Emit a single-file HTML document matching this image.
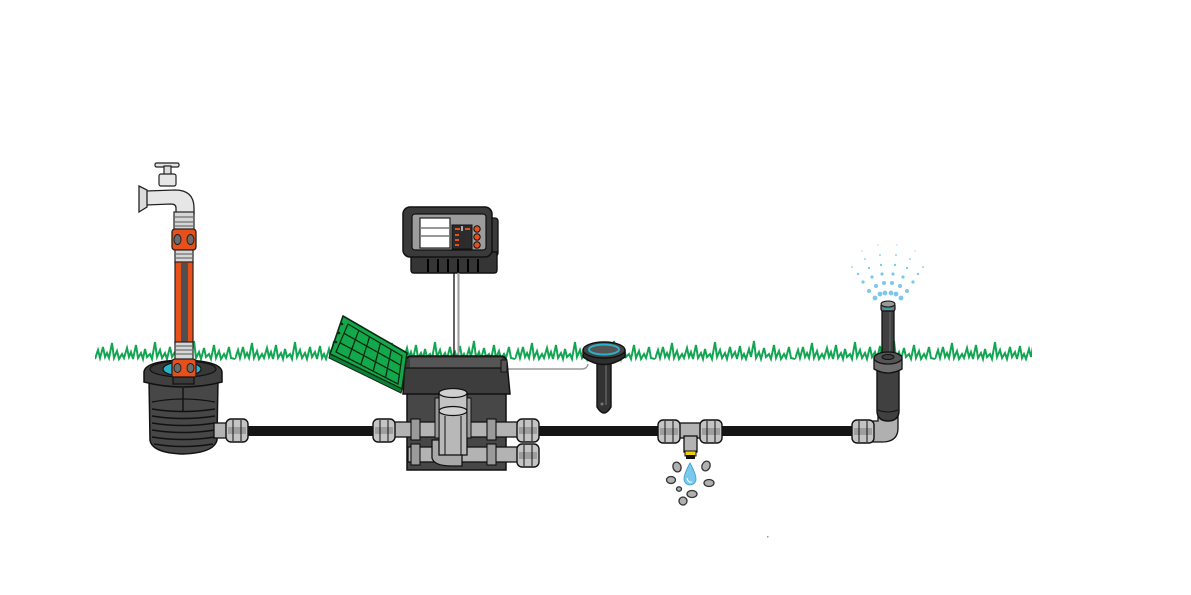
<!DOCTYPE html>
<html><head><meta charset="utf-8"><style>html,body{margin:0;padding:0;background:#fff}svg{display:block}</style></head>
<body>
<svg width="1191" height="595" viewBox="0 0 1191 595" xmlns="http://www.w3.org/2000/svg">
<defs>
<pattern id="g" x="95" y="337" width="140" height="28" patternUnits="userSpaceOnUse">
<path d="M0,22 L3,13 L5,21 L8,10 L10,20 L12,16 L14,21 L17,6 L19,21 L22,14 L24,22 L27,17 L29,21 L32,11 L34,20 L36,15 L38,22 L41,8 L43,21 L46,16 L48,22 L50,12 L52,20 L55,17 L57,22 L60,5 L62,20 L65,13 L67,21 L70,16 L72,22 L75,10 L77,20 L80,15 L82,22 L85,9 L87,21 L89,17 L91,22 L94,12 L96,20 L99,4 L101,21 L104,15 L106,22 L109,11 L111,20 L114,17 L116,22 L119,8 L121,21 L124,14 L126,22 L129,17 L131,21 L134,10 L136,21 L140,22" fill="none" stroke="#12a652" stroke-width="2" stroke-linejoin="miter"/>
</pattern>
<g id="nut">
<rect x="0" y="0" width="22" height="23" rx="5" fill="#c4c4c4" stroke="#111" stroke-width="1.4"/>
<rect x="2" y="8" width="18" height="7" fill="#9e9e9e"/>
<line x1="7" y1="1" x2="7" y2="22" stroke="#111" stroke-width="1"/>
<line x1="15" y1="1" x2="15" y2="22" stroke="#111" stroke-width="1"/>
</g>
</defs>
<rect width="1191" height="595" fill="#fff"/>
<rect x="95" y="337" width="937" height="28" fill="url(#g)"/>

<!-- pipes -->
<rect x="240" y="426" width="145" height="10" fill="#151515"/>
<rect x="530" y="426" width="140" height="10" fill="#151515"/>
<rect x="712" y="426" width="150" height="10" fill="#151515"/>

<!-- TAP -->
<rect x="155" y="163" width="24" height="4" rx="1.5" fill="#e4e4e4" stroke="#222" stroke-width="1.2"/>
<rect x="164" y="166" width="7" height="9" fill="#ddd" stroke="#222" stroke-width="1.2"/>
<rect x="159" y="174" width="17" height="12" rx="2" fill="#e6e6e6" stroke="#222" stroke-width="1.2"/>
<path d="M146,191 L175,190 Q194,190 194,208 L194,214 L176,214 L176,208 Q176,204 171,204 L146,205 Z" fill="#e6e6e6" stroke="#222" stroke-width="1.3"/>
<path d="M139,186 L147,190 L147,207 L139,212 Z" fill="#dcdcdc" stroke="#222" stroke-width="1.3"/>
<rect x="174" y="212" width="20" height="18" fill="#d6d6d6" stroke="#222" stroke-width="1.2"/>
<line x1="175" y1="217" x2="193" y2="217" stroke="#555"/><line x1="175" y1="222" x2="193" y2="222" stroke="#555"/><line x1="175" y1="226" x2="193" y2="226" stroke="#555"/>
<rect x="172" y="229" width="24" height="21" rx="3" fill="#e8501b" stroke="#222" stroke-width="1.3"/>
<ellipse cx="177.5" cy="239.5" rx="3.5" ry="5" fill="#6d6d6d" stroke="#222"/>
<ellipse cx="190.5" cy="239.5" rx="3.5" ry="5" fill="#6d6d6d" stroke="#222"/>
<rect x="175" y="250" width="18" height="13" fill="#d6d6d6" stroke="#222" stroke-width="1.2"/>
<line x1="176" y1="254" x2="192" y2="254" stroke="#555"/><line x1="176" y1="258" x2="192" y2="258" stroke="#555"/>
<rect x="175" y="262" width="18" height="82" fill="#e8501b" stroke="#222" stroke-width="1.2"/>
<rect x="181" y="263" width="7" height="80" fill="#4f4f4f"/>

<!-- POT -->
<path d="M149,378 L150,440 Q152,453 183,454 Q214,453 217,440 L218,378 Z" fill="#474747" stroke="#111" stroke-width="1.5"/>
<path d="M152,402 Q183,396 215,402" fill="none" stroke="#111" stroke-width="1.2"/>
<path d="M152,409 Q183,414 215,409" fill="none" stroke="#111" stroke-width="1.4"/>
<path d="M152,416 Q183,421 215,416" fill="none" stroke="#111" stroke-width="1.4"/>
<path d="M152,423 Q183,428 215,423" fill="none" stroke="#111" stroke-width="1.4"/>
<path d="M152,430 Q183,435 215,430" fill="none" stroke="#111" stroke-width="1.4"/>
<path d="M152,437 Q183,442 215,437" fill="none" stroke="#111" stroke-width="1.4"/>
<path d="M154,444 Q183,449 213,444" fill="none" stroke="#111" stroke-width="1.4"/>
<line x1="183" y1="388" x2="183" y2="412" stroke="#111" stroke-width="1.4"/>
<path d="M144,372 Q145,361 183,360 Q221,361 222,372 L222,382 Q183,392 144,382 Z" fill="#404040" stroke="#111" stroke-width="1.5"/>
<ellipse cx="183" cy="369" rx="33" ry="8" fill="#383838" stroke="#111" stroke-width="1.2"/>
<ellipse cx="182" cy="369" rx="19" ry="7" fill="#2bb4c8" stroke="#111" stroke-width="1.2"/>
<rect x="175" y="342" width="18" height="18" fill="#d6d6d6" stroke="#222" stroke-width="1.2"/>
<line x1="176" y1="346" x2="192" y2="346" stroke="#555"/><line x1="176" y1="350" x2="192" y2="350" stroke="#555"/><line x1="176" y1="354" x2="192" y2="354" stroke="#555"/>
<rect x="172" y="359" width="24" height="19" rx="3" fill="#e8501b" stroke="#222" stroke-width="1.3"/>
<ellipse cx="177.5" cy="368" rx="3.5" ry="4.5" fill="#6d6d6d" stroke="#222"/>
<ellipse cx="190.5" cy="368" rx="3.5" ry="4.5" fill="#6d6d6d" stroke="#222"/>
<rect x="173" y="377" width="21" height="7" fill="#3a3a3a" stroke="#111" stroke-width="1.2"/>
<rect x="214" y="423" width="14" height="15" fill="#b3b3b3" stroke="#111" stroke-width="1.3"/>
<use href="#nut" x="226" y="419"/>

<!-- CONTROLLER -->
<rect x="488" y="218" width="10" height="38" rx="3" fill="#3a3a3a" stroke="#111" stroke-width="1.3"/>
<path d="M411,252 L411,270 Q411,273 414,273 L494,273 Q497,273 497,270 L497,252 Z" fill="#353535" stroke="#111" stroke-width="1.4"/>
<g stroke="#000" stroke-width="2"><line x1="428" y1="259" x2="428" y2="272"/><line x1="438" y1="259" x2="438" y2="272"/><line x1="448" y1="259" x2="448" y2="272"/><line x1="458" y1="259" x2="458" y2="272"/><line x1="468" y1="259" x2="468" y2="272"/><line x1="478" y1="259" x2="478" y2="272"/></g>
<rect x="403" y="207" width="89" height="50" rx="7" fill="#3a3a3a" stroke="#111" stroke-width="1.5"/>
<rect x="412" y="214" width="74" height="36" rx="3" fill="#9c9c9c" stroke="#111" stroke-width="1.2"/>
<rect x="420" y="218" width="30" height="30" fill="#fff" stroke="#222" stroke-width="1.2"/>
<line x1="420" y1="228" x2="450" y2="228" stroke="#777" stroke-width="1.5"/>
<line x1="420" y1="236" x2="450" y2="236" stroke="#777" stroke-width="1.5"/>
<rect x="452" y="225" width="20" height="24" fill="#2c2c2c" stroke="#111"/>
<g fill="#e8501b"><rect x="455" y="228" width="5" height="2"/><rect x="465" y="228" width="5" height="2"/><rect x="455" y="234" width="4" height="2"/><rect x="455" y="239" width="4" height="2"/><rect x="455" y="244" width="4" height="2"/></g>
<rect x="461" y="226" width="2" height="5" fill="#aaa"/>
<g fill="#e8501b" stroke="#111" stroke-width="1"><circle cx="477" cy="229" r="3.2"/><circle cx="477" cy="237" r="3.2"/><circle cx="477" cy="245" r="3.2"/></g>
<line x1="454" y1="273" x2="454" y2="358" stroke="#111" stroke-width="1.3"/>
<line x1="458.5" y1="273" x2="458.5" y2="358" stroke="#9a9a9a" stroke-width="2"/>
<path d="M508,369 L582,369 Q587,369 588,364" fill="none" stroke="#9a9a9a" stroke-width="1.5"/>

<!-- BOX -->
<rect x="407" y="388" width="99" height="82" fill="#474747" stroke="#111" stroke-width="1.5"/>
<path d="M403,394 L405,362 Q406,356 412,356 L500,356 Q506,356 507,362 L510,394 Z" fill="#3d3d3d" stroke="#111" stroke-width="1.5"/>
<rect x="410" y="358" width="92" height="10" fill="#555"/>
<line x1="405" y1="368" x2="507" y2="368" stroke="#111" stroke-width="1.2"/>
<rect x="501" y="360" width="6" height="12" fill="#555" stroke="#111"/>
<!-- green lid -->
<path d="M343,316 L407,353 L402,389 L330,354 Z" fill="#13a84b" stroke="#0a2a12" stroke-width="1.6" stroke-linejoin="round"/>
<path d="M330,354 L402,389 L401,393 L329,358 Z" fill="#0d7f37" stroke="#0a2a12" stroke-width="1"/>
<path d="M348,324 L402,356 L398,384 L336,352 Z" fill="none" stroke="#0a2a12" stroke-width="1.3"/>
<g stroke="#0a2a12" stroke-width="1.3"><line x1="358.8" y1="330.4" x2="348.4" y2="358.4"/><line x1="369.6" y1="336.8" x2="360.8" y2="364.8"/><line x1="380.4" y1="343.2" x2="373.2" y2="371.2"/><line x1="391.2" y1="349.6" x2="385.6" y2="377.6"/><line x1="344" y1="333.3" x2="400.7" y2="365.3"/><line x1="340" y1="342.7" x2="399.3" y2="374.7"/></g>
<g fill="#0a2a12"><circle cx="342" cy="324" r="1.3"/><circle cx="339" cy="333" r="1.3"/><circle cx="336" cy="342" r="1.3"/></g>
<!-- pipes in box -->
<rect x="390" y="422" width="138" height="15" fill="#b3b3b3" stroke="#111" stroke-width="1.3"/>
<rect x="408" y="447" width="120" height="15" fill="#b3b3b3" stroke="#111" stroke-width="1.3"/>
<g fill="#9a9a9a" stroke="#111" stroke-width="1.1">
<rect x="411" y="419" width="9" height="21"/><rect x="487" y="419" width="9" height="21"/>
<rect x="411" y="444" width="9" height="21"/><rect x="487" y="444" width="9" height="21"/>
</g>
<path d="M432,440 L432,458 Q434,466 452,466 L462,466 L462,440 Z" fill="#a8a8a8" stroke="#111" stroke-width="1.3"/>
<rect x="439" y="410" width="28" height="45" fill="#b8b8b8" stroke="#111" stroke-width="1.3"/>
<rect x="439" y="393" width="28" height="17" fill="#c4c4c4" stroke="#111" stroke-width="1.3"/>
<ellipse cx="453" cy="393" rx="14" ry="4.5" fill="#d0d0d0" stroke="#111" stroke-width="1.3"/>
<ellipse cx="453" cy="411" rx="14" ry="4.5" fill="#d0d0d0" stroke="#111" stroke-width="1.3"/>
<line x1="445" y1="416" x2="445" y2="455" stroke="#111"/><line x1="461" y1="416" x2="461" y2="455" stroke="#111"/>
<rect x="435" y="398" width="4" height="40" fill="#999" stroke="#111"/>
<rect x="467" y="398" width="4" height="40" fill="#999" stroke="#111"/>
<use href="#nut" x="373" y="419"/>
<use href="#nut" x="517" y="419"/>
<use href="#nut" x="517" y="444"/>

<!-- SENSOR -->
<path d="M597,360 L597,407 Q604,419 611,407 L611,360 Z" fill="#333" stroke="#111" stroke-width="1.4"/>
<line x1="606" y1="365" x2="606" y2="405" stroke="#555" stroke-width="2"/>
<circle cx="602" cy="404" r="1.5" fill="#777"/>
<path d="M583,350 L583,357 Q604,372 625,357 L625,350 Z" fill="#2f2f2f" stroke="#111" stroke-width="1.4"/>
<ellipse cx="604" cy="350" rx="21" ry="8" fill="#444" stroke="#111" stroke-width="1.4"/>
<ellipse cx="604" cy="349.5" rx="15" ry="5" fill="#555" stroke="#2ab3c6" stroke-width="2"/>

<!-- T JOINT -->
<rect x="676" y="423" width="28" height="15" fill="#b3b3b3" stroke="#111" stroke-width="1.3"/>
<rect x="684" y="436" width="13" height="16" fill="#b3b3b3" stroke="#111" stroke-width="1.3"/>
<rect x="685" y="451" width="11" height="5" fill="#f2d000" stroke="#111"/>
<rect x="686" y="455" width="9" height="4" fill="#111"/>
<use href="#nut" x="658" y="420"/>
<use href="#nut" x="700" y="420"/>
<path d="M690,463 Q684,474 684,479 A6,6 0 0 0 696,479 Q696,474 690,463 Z" fill="#7cc8ec" stroke="#3a9ed0" stroke-width="0.8"/>
<path d="M687,478 Q688,483 692,482" fill="none" stroke="#fff" stroke-width="1"/>
<g fill="#b0b0b0" stroke="#333" stroke-width="1.3">
<ellipse cx="677" cy="467" rx="4" ry="5" transform="rotate(-20 677 467)"/>
<ellipse cx="706" cy="466" rx="4" ry="5" transform="rotate(25 706 466)"/>
<ellipse cx="671" cy="480" rx="4.5" ry="3.5"/>
<ellipse cx="709" cy="483" rx="5" ry="3.5"/>
<ellipse cx="692" cy="494" rx="5" ry="3.5"/>
<ellipse cx="679" cy="489" rx="2.5" ry="2.2"/>
<ellipse cx="683" cy="501" rx="4" ry="4"/>
</g>

<!-- SPRINKLER -->
<path d="M878,416 L898,416 L898,428 Q898,442 882,442 L872,442 L872,421 L878,421 Z" fill="#b0b0b0" stroke="#111" stroke-width="1.3"/>
<use href="#nut" x="852" y="420"/>
<path d="M877,370 L877,412 Q878,421 888,421 Q898,421 899,412 L899,370 Z" fill="#404040" stroke="#111" stroke-width="1.4"/>
<path d="M878,410 Q888,414 898,410" fill="none" stroke="#111"/>
<rect x="882" y="307" width="12" height="50" fill="#404040" stroke="#111" stroke-width="1.3"/>
<line x1="890" y1="312" x2="890" y2="352" stroke="#555" stroke-width="2"/>
<path d="M874,358 L874,369 Q888,377 902,369 L902,358 Z" fill="#6e6e6e" stroke="#111" stroke-width="1.3"/>
<ellipse cx="888" cy="358" rx="14" ry="6" fill="#555" stroke="#111" stroke-width="1.3"/>
<ellipse cx="888" cy="357" rx="6" ry="2.5" fill="#404040" stroke="#111"/>
<rect x="881" y="304" width="14" height="7" rx="2" fill="#777" stroke="#111" stroke-width="1.2"/>
<ellipse cx="888" cy="304" rx="7" ry="3" fill="#999" stroke="#111"/>
<line x1="884" y1="309" x2="892" y2="309" stroke="#2ab3c6" stroke-width="1.3"/>
<g fill="#7cc8ec">
<circle cx="875" cy="298" r="2.4"/><circle cx="880" cy="294" r="2.4"/><circle cx="885" cy="293" r="2.4"/><circle cx="891" cy="293" r="2.4"/><circle cx="896" cy="294" r="2.4"/><circle cx="901" cy="298" r="2.4"/>
<circle cx="869" cy="291" r="2"/><circle cx="876" cy="286" r="2"/><circle cx="884" cy="283" r="2"/><circle cx="892" cy="283" r="2"/><circle cx="900" cy="286" r="2"/><circle cx="907" cy="291" r="2"/>
<circle cx="863" cy="282" r="1.6"/><circle cx="872" cy="277" r="1.6"/><circle cx="882" cy="274" r="1.6"/><circle cx="893" cy="274" r="1.6"/><circle cx="903" cy="277" r="1.6"/><circle cx="913" cy="282" r="1.6"/>
<circle cx="858" cy="274" r="1.2"/><circle cx="869" cy="268" r="1.2"/><circle cx="881" cy="265" r="1.2"/><circle cx="895" cy="265" r="1.2"/><circle cx="907" cy="268" r="1.2"/><circle cx="918" cy="274" r="1.2"/>
<circle cx="852" cy="267" r="0.9"/><circle cx="865" cy="259" r="0.9"/><circle cx="880" cy="255" r="0.9"/><circle cx="896" cy="255" r="0.9"/><circle cx="910" cy="259" r="0.9"/><circle cx="923" cy="267" r="0.9"/>
<circle cx="862" cy="251" r="0.6"/><circle cx="878" cy="245" r="0.6"/><circle cx="897" cy="245" r="0.6"/><circle cx="915" cy="251" r="0.6"/>
</g>
<rect x="767" y="536" width="1.5" height="1.5" fill="#999"/>
</svg>
</body></html>
